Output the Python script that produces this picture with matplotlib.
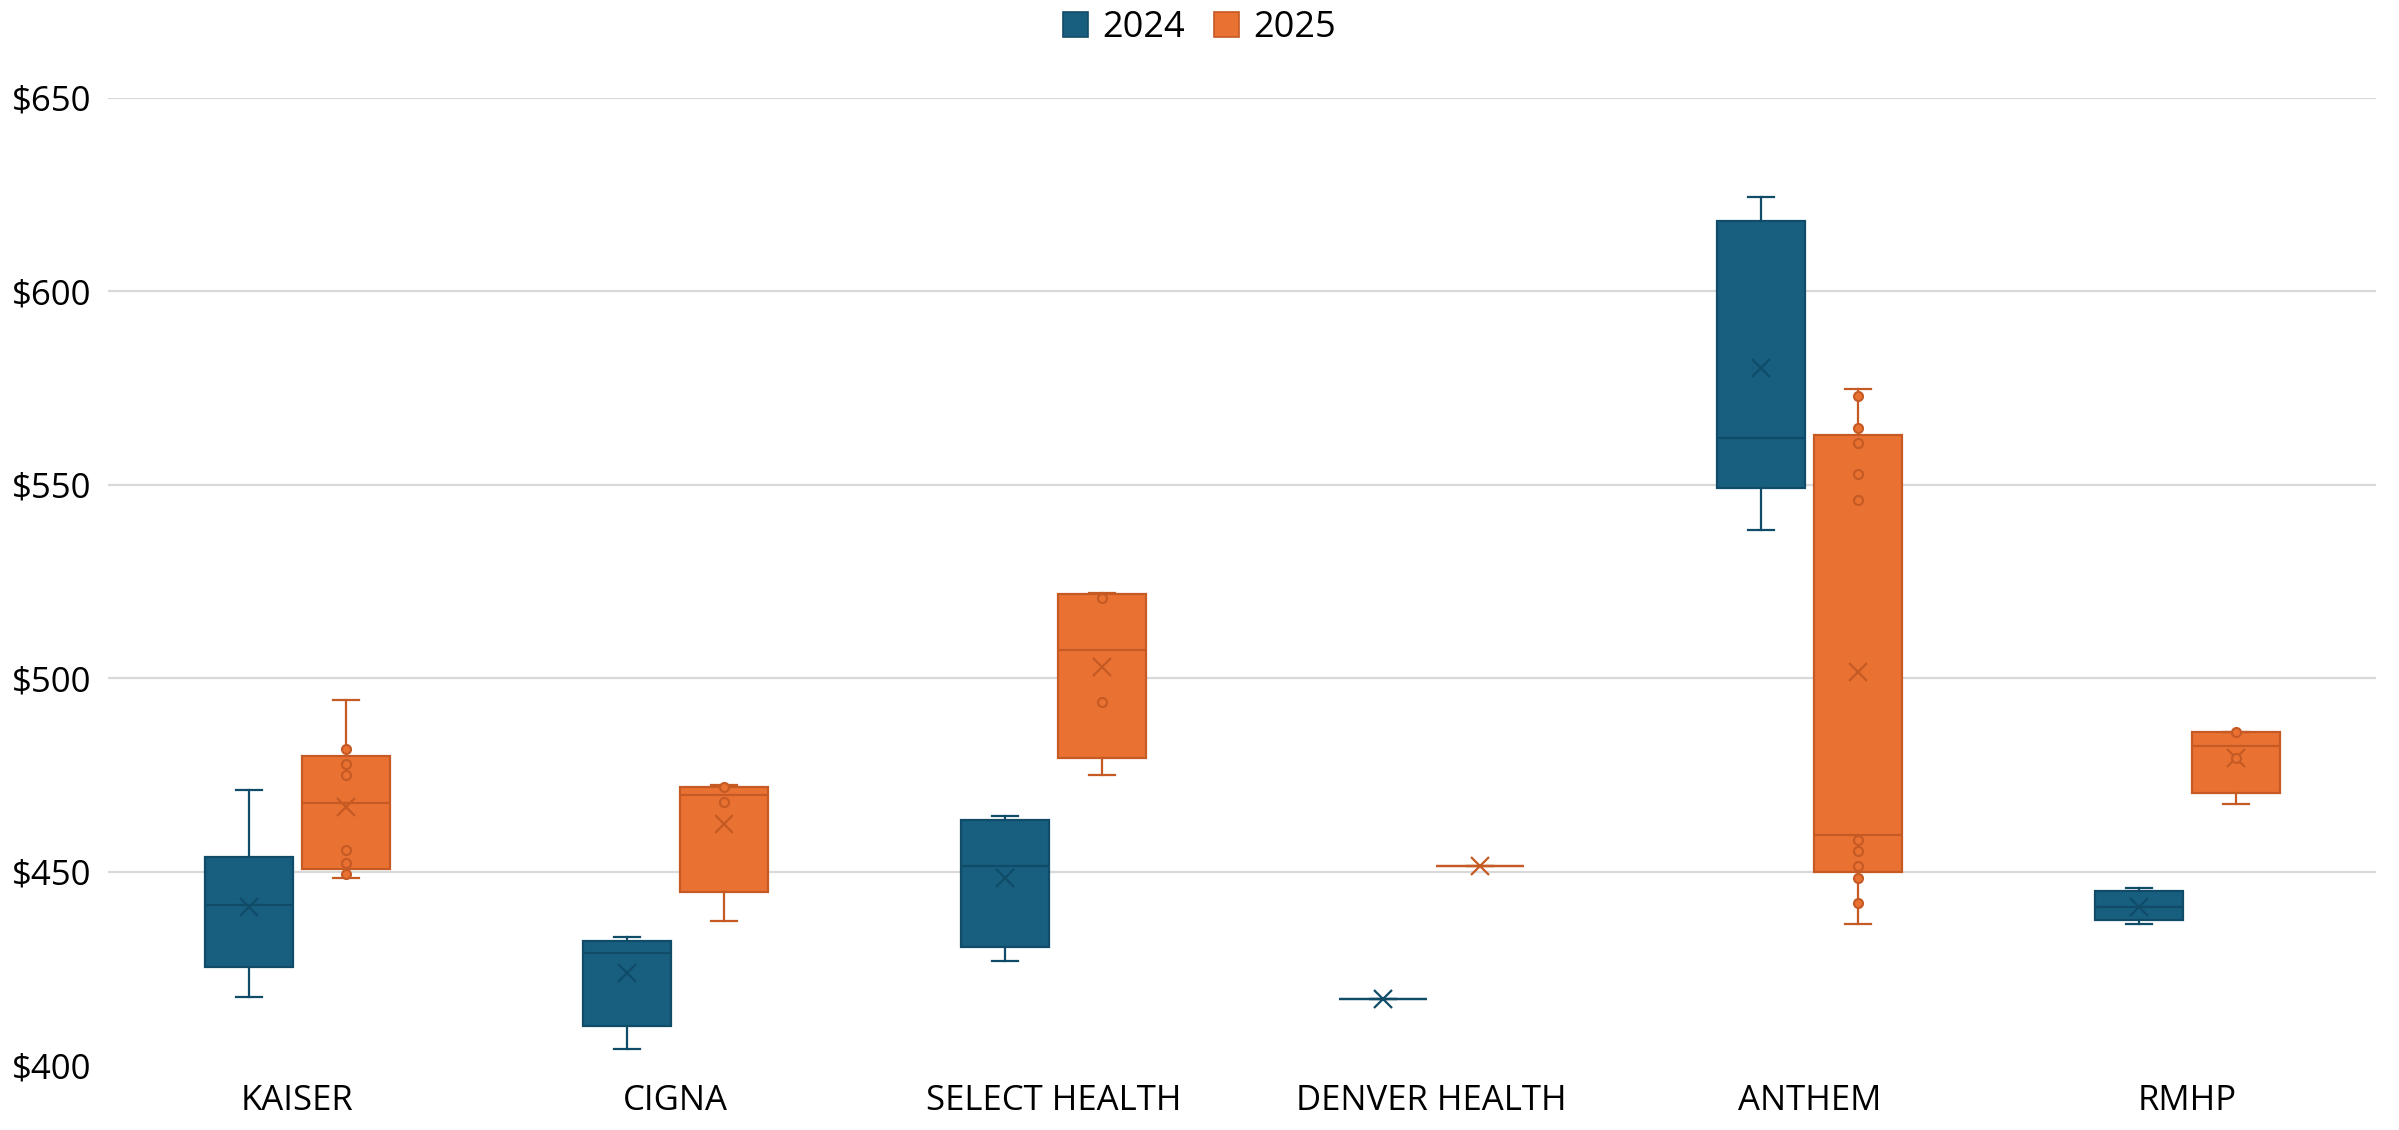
import matplotlib.pyplot as plt
from matplotlib.patches import Patch
import numpy as np

plt.rcParams['font.family'] = ['Open Sans', 'DejaVu Sans']

categories = ['KAISER', 'CIGNA', 'SELECT HEALTH', 'DENVER HEALTH', 'ANTHEM', 'RMHP']
years = ['2024', '2025']

# 2024 box stats
lo_2024 = [417.6, 404.1, 426.9, 417.1, 538.3, 436.5]
q1_2024 = [425.3, 410.2, 430.6, 417.1, 549.1, 437.4]
med_2024 = [441.4, 428.9, 451.4, 417.1, 562.0, 440.9]
q3_2024 = [453.8, 432.0, 463.4, 417.1, 618.1, 444.9]
hi_2024 = [471.2, 433.2, 464.4, 417.1, 624.5, 445.7]
mean_2024 = [440.8, 423.7, 448.4, 417.1, 580.2, 440.9]
pts_2024 = [[], [], [], [], [], []]

# 2025 box stats
lo_2025 = [448.4, 437.2, 475.0, 451.4, 436.5, 467.5]
q1_2025 = [450.6, 444.8, 479.5, 451.4, 450.0, 470.4]
med_2025 = [467.7, 469.9, 507.4, 451.4, 459.5, 482.6]
q3_2025 = [479.8, 472.0, 521.8, 451.4, 562.9, 486.0]
hi_2025 = [494.4, 472.4, 522.0, 451.4, 574.7, 486.0]
mean_2025 = [466.8, 462.3, 502.9, 451.4, 501.7, 479.5]
pts_2025 = [
    [481.6, 477.9, 475.1, 455.5, 452.1, 449.5],
    [472.0, 468.1],
    [520.7, 493.9],
    [],
    [573.0, 564.8, 560.8, 552.7, 546.0, 458.2, 455.4, 451.4, 448.4, 441.9],
    [486.0, 479.5],
]

fill_colors = ['#175e7f', '#e97132']
edge_colors = ['#104c68', '#c55a24']


def make_stats(lo, q1, med, q3, hi, mean):
    stats = []
    for i in range(len(lo)):
        stats.append({'whislo': lo[i], 'q1': q1[i], 'med': med[i], 'q3': q3[i],
                      'whishi': hi[i], 'mean': mean[i], 'fliers': []})
    return stats


fig = plt.figure(figsize=(23.99, 11.30), dpi=100)
ax = fig.add_axes([0.0452, 0.0575, 0.9454, 0.8558])

series = [
    (make_stats(lo_2024, q1_2024, med_2024, q3_2024, hi_2024, mean_2024), pts_2024),
    (make_stats(lo_2025, q1_2025, med_2025, q3_2025, hi_2025, mean_2025), pts_2025),
]
offsets = [-0.128, 0.128]
x = np.arange(len(categories))

for k, (stats, pts) in enumerate(series):
    fc = fill_colors[k]
    ec = edge_colors[k]
    pos = x + offsets[k]
    ax.bxp(stats, positions=pos, widths=0.233, patch_artist=True, showmeans=True,
           showfliers=False, capwidths=0.07,
           boxprops=dict(facecolor=fc, edgecolor=ec, linewidth=1.6),
           medianprops=dict(color=ec, linewidth=1.6),
           whiskerprops=dict(color=ec, linewidth=1.6),
           capprops=dict(color=ec, linewidth=1.6),
           meanprops=dict(marker='x', markeredgecolor=ec, markersize=13, markeredgewidth=1.6),
           zorder=3)
    for i in range(len(categories)):
        if len(pts[i]) > 0:
            ax.plot([pos[i]] * len(pts[i]), pts[i], 'o', markerfacecolor=fc,
                    markeredgecolor=ec, markersize=6.5, markeredgewidth=1.5,
                    linestyle='none', zorder=4)

ax.set_xlim(-0.5, len(categories) - 0.5)
ax.set_ylim(400, 650)
yt = [400, 450, 500, 550, 600, 650]
ax.set_yticks(yt)
ax.set_yticklabels(['$' + str(v) for v in yt], fontsize=25)
for v in yt[1:]:
    ax.axhline(v, color='#d9d9d9', linewidth=1.6, zorder=1)
ax.set_xticks(x)
ax.set_xticklabels(categories, fontsize=25)
ax.tick_params(axis='both', length=0)
ax.tick_params(axis='y', pad=12)
ax.tick_params(axis='x', pad=14)
for s in ax.spines.values():
    s.set_visible(False)

handles = [Patch(facecolor=fill_colors[k], edgecolor=edge_colors[k], linewidth=1.2) for k in range(2)]
fig.legend(handles, years, loc='upper center', bbox_to_anchor=(0.5, 1.02), ncol=2,
           frameon=False, fontsize=26, handlelength=0.7, handleheight=0.7,
           handletextpad=0.4, columnspacing=0.8)

fig.savefig('out.png', dpi=100)
